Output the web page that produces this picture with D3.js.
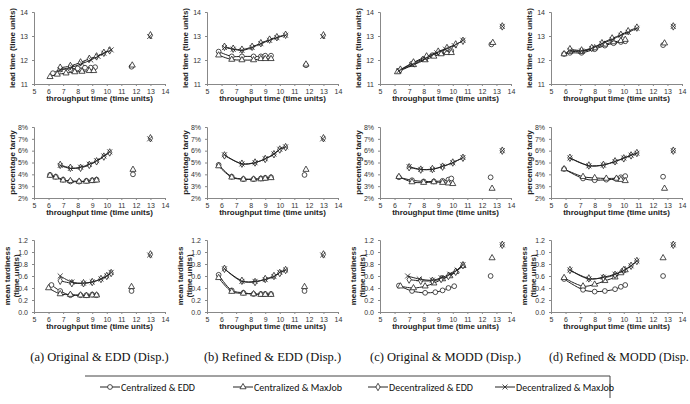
<!DOCTYPE html>
<html>
<head>
<meta charset="utf-8">
<script src="https://cdn.jsdelivr.net/npm/d3@7"></script>
<style>
  body { margin: 0; background: #fff; }
  svg { display: block; }
  .tick text { font-family: Arial, "Liberation Sans", sans-serif; font-size: 7px; fill: #333; }
  .tick line { stroke: #888; }
</style>
</head>
<body>
<svg id="fig" width="690" height="404"></svg>
<script>
// ---- data ----
const seriesNames = ["Centralized & EDD", "Centralized & MaxJob", "Decentralized & EDD", "Decentralized & MaxJob"];
const captions = ["(a) Original & EDD (Disp.)", "(b) Refined & EDD (Disp.)", "(c) Original & MODD (Disp.)", "(d) Refined & MODD (Disp."];
const xTicks = [5, 6, 7, 8, 9, 10, 11, 12, 13, 14];
const leadTicks = [11, 12, 13, 14];
const tardyTicks = [0.02, 0.03, 0.04, 0.05, 0.06, 0.07, 0.08];
const meanTicks = [0, 0.2, 0.4, 0.6, 0.8, 1.0, 1.2];

// lead time: [centEDD, centMaxJob, decEDD, decMaxJob]
const leadA = [
  [[6.3,11.45],[6.8,11.6],[7.5,11.62],[8.0,11.65],[8.5,11.68],[8.9,11.68],[9.2,11.7]],
  [[6.1,11.3],[6.6,11.4],[7.2,11.45],[7.8,11.5],[8.3,11.52],[8.8,11.55],[9.1,11.55]],
  [[6.8,11.68],[7.5,11.75],[8.2,11.9],[8.8,12.05],[9.3,12.15],[9.8,12.3],[10.2,12.4]],
  [[6.8,11.6],[7.6,11.7],[8.3,11.85],[8.9,12.0],[9.4,12.15],[9.8,12.28],[10.3,12.42]]
];
const leadB = [
  [[5.8,12.35],[6.7,12.15],[7.4,12.15],[8.2,12.15],[8.7,12.15],[9.0,12.18],[9.4,12.18]],
  [[5.8,12.2],[6.7,12.02],[7.4,12.0],[8.2,12.0],[8.7,12.05],[9.0,12.05],[9.4,12.05]],
  [[6.2,12.55],[6.8,12.47],[7.4,12.43],[8.1,12.55],[8.7,12.7],[9.3,12.85],[9.8,12.95],[10.4,13.05]],
  [[6.2,12.52],[6.8,12.45],[7.4,12.4],[8.1,12.52],[8.7,12.68],[9.3,12.82],[9.8,12.93],[10.4,13.03]]
];
const leadC = [
  [[6.3,11.55],[7.2,11.85],[8.0,12.05],[8.6,12.2],[9.1,12.3],[9.5,12.35],[9.9,12.38]],
  [[6.2,11.5],[7.3,11.8],[8.1,12.0],[8.7,12.15],[9.2,12.25],[9.6,12.3],[9.9,12.3]],
  [[6.4,11.6],[7.3,11.9],[8.2,12.15],[9.0,12.35],[9.6,12.5],[10.2,12.65],[10.7,12.8]],
  [[6.3,11.55],[7.2,11.8],[8.1,12.05],[8.9,12.3],[9.5,12.45],[10.1,12.6],[10.7,12.82]]
];
const leadD = [
  [[5.9,12.25],[6.3,12.3],[7.1,12.3],[8.0,12.45],[8.7,12.6],[9.3,12.7],[9.8,12.75],[10.1,12.78]],
  [[5.9,12.25],[6.3,12.35],[7.1,12.35],[8.0,12.5],[8.7,12.65],[9.3,12.75],[9.8,12.8],[10.1,12.85]],
  [[6.3,12.45],[7.1,12.4],[7.8,12.5],[8.5,12.7],[9.2,12.9],[9.8,13.05],[10.3,13.2],[10.9,13.35]],
  [[6.3,12.4],[7.1,12.38],[7.8,12.48],[8.5,12.68],[9.2,12.85],[9.8,13.03],[10.3,13.15],[10.9,13.32]]
];
// percentage tardy
const tardyA = [
  [[6.1,0.0395],[6.5,0.038],[7.0,0.0355],[7.5,0.034],[8.1,0.0338],[8.6,0.0345],[9.0,0.035],[9.3,0.0355]],
  [[6.1,0.039],[6.5,0.0375],[7.0,0.035],[7.5,0.0345],[8.1,0.034],[8.6,0.034],[9.0,0.0345],[9.3,0.035]],
  [[6.8,0.048],[7.5,0.0455],[8.2,0.0455],[8.8,0.048],[9.3,0.051],[9.8,0.055],[10.2,0.0585]],
  [[6.8,0.0475],[7.5,0.045],[8.2,0.046],[8.8,0.0485],[9.3,0.0515],[9.8,0.0555],[10.2,0.059]]
];
const tardyB = [
  [[5.8,0.048],[6.7,0.038],[7.5,0.036],[8.2,0.036],[8.7,0.0365],[9.0,0.037],[9.4,0.0375]],
  [[5.8,0.047],[6.7,0.0375],[7.5,0.0358],[8.2,0.0358],[8.7,0.036],[9.0,0.0365],[9.4,0.037]],
  [[6.2,0.056],[7.4,0.049],[8.3,0.05],[9.0,0.053],[9.6,0.057],[10.0,0.061],[10.4,0.063]],
  [[6.2,0.0565],[7.4,0.0488],[8.3,0.0498],[9.0,0.0532],[9.6,0.0572],[10.0,0.0612],[10.4,0.0632]]
];
const tardyC = [
  [[6.3,0.0375],[7.2,0.035],[8.0,0.034],[8.7,0.034],[9.3,0.0345],[9.7,0.0355],[9.9,0.0365]],
  [[6.3,0.038],[7.2,0.0335],[8.0,0.033],[8.7,0.0335],[9.3,0.033],[9.7,0.0325],[10.0,0.032]],
  [[7.0,0.046],[7.8,0.044],[8.6,0.0445],[9.3,0.0465],[10.0,0.05],[10.7,0.054]],
  [[7.0,0.0465],[7.8,0.0442],[8.6,0.0442],[9.3,0.0468],[10.0,0.0498],[10.7,0.0542]]
];
const tardyD = [
  [[5.9,0.0445],[7.2,0.0365],[8.0,0.035],[8.8,0.0355],[9.5,0.036],[9.8,0.0375],[10.1,0.0385]],
  [[5.9,0.0445],[7.2,0.038],[8.0,0.037],[8.8,0.0365],[9.5,0.0365],[9.8,0.0355],[10.1,0.0345]],
  [[6.3,0.054],[7.6,0.0475],[8.6,0.048],[9.4,0.051],[10.0,0.0535],[10.5,0.056],[10.9,0.058]],
  [[6.3,0.0538],[7.6,0.0472],[8.6,0.0478],[9.4,0.0508],[10.0,0.0538],[10.5,0.0562],[10.9,0.0578]]
];
// mean tardiness
const meanA = [
  [[6.2,0.45],[6.8,0.35],[7.5,0.28],[8.2,0.28],[8.6,0.28],[9.0,0.29],[9.3,0.28]],
  [[6.0,0.4],[6.8,0.3],[7.5,0.29],[8.2,0.28],[8.6,0.27],[9.0,0.28],[9.3,0.28]],
  [[6.8,0.52],[7.6,0.48],[8.4,0.48],[9.0,0.5],[9.6,0.55],[10.0,0.6],[10.3,0.65]],
  [[6.8,0.6],[7.6,0.5],[8.4,0.48],[9.0,0.5],[9.6,0.55],[10.0,0.6],[10.3,0.66]]
];
const meanB = [
  [[5.8,0.62],[6.7,0.36],[7.5,0.32],[8.2,0.3],[8.7,0.3],[9.0,0.3],[9.4,0.3]],
  [[5.8,0.57],[6.7,0.34],[7.5,0.31],[8.2,0.3],[8.7,0.29],[9.0,0.29],[9.4,0.29]],
  [[6.2,0.72],[7.4,0.52],[8.3,0.5],[9.0,0.55],[9.6,0.6],[10.0,0.65],[10.4,0.7]],
  [[6.2,0.72],[7.4,0.51],[8.3,0.51],[9.0,0.54],[9.6,0.59],[10.0,0.66],[10.4,0.7]]
];
const meanC = [
  [[6.3,0.44],[7.2,0.35],[8.1,0.32],[8.8,0.33],[9.3,0.36],[9.7,0.4],[10.1,0.43]],
  [[6.4,0.43],[7.3,0.4],[8.1,0.43],[8.7,0.48],[9.3,0.55],[9.8,0.6],[10.2,0.67],[10.7,0.77]],
  [[7.0,0.54],[7.8,0.52],[8.6,0.52],[9.2,0.55],[9.7,0.6],[10.2,0.67],[10.7,0.78]],
  [[6.9,0.6],[7.7,0.55],[8.6,0.53],[9.2,0.57],[9.8,0.63],[10.3,0.7],[10.7,0.79]]
];
const meanD = [
  [[5.9,0.55],[7.2,0.37],[8.0,0.34],[8.7,0.35],[9.4,0.38],[9.8,0.42],[10.1,0.45]],
  [[5.9,0.57],[7.2,0.43],[8.0,0.46],[8.7,0.52],[9.4,0.58],[9.8,0.65],[10.1,0.7]],
  [[6.3,0.7],[7.6,0.56],[8.6,0.57],[9.4,0.62],[10.0,0.7],[10.5,0.77],[10.9,0.85]],
  [[6.3,0.7],[7.6,0.55],[8.6,0.58],[9.4,0.63],[10.0,0.69],[10.5,0.77],[10.9,0.85]]
];
// isolated points (one per series) per panel
const leadIso = [
  [[11.7,11.72],[11.75,11.78],[13.0,13.03],[12.95,12.98]],
  [[11.8,11.78],[11.8,11.82],[13.0,13.03],[12.95,12.98]],
  [[12.65,12.65],[12.75,12.72],[13.4,13.4],[13.4,13.4]],
  [[12.7,12.62],[12.8,12.7],[13.4,13.4],[13.4,13.4]]
];
const tardyIso = [
  [[11.8,0.040],[11.8,0.044],[13.0,0.0705],[12.95,0.07]],
  [[11.7,0.0395],[11.8,0.044],[13.0,0.0705],[12.95,0.07]],
  [[12.6,0.0375],[12.7,0.028],[13.4,0.06],[13.4,0.06]],
  [[12.7,0.038],[12.8,0.028],[13.4,0.06],[13.4,0.06]]
];
const meanIso = [
  [[11.7,0.35],[11.7,0.42],[13.0,0.96],[12.95,0.95]],
  [[11.7,0.35],[11.7,0.42],[13.0,0.96],[12.95,0.95]],
  [[12.6,0.6],[12.7,0.9],[13.4,1.12],[13.4,1.12]],
  [[12.7,0.6],[12.7,0.9],[13.4,1.12],[13.4,1.12]]
];

// ---- layout ----
const svg = d3.select("#fig");
const colX = [34, 207, 380, 551];
const plotW = 131;
const rowsCfg = [
  { top: 12, bottom: 84, data: [leadA, leadB, leadC, leadD], iso: leadIso,
    domain: [11, 14], ticks: leadTicks, fmt: d3.format("d"), label: ["lead time (time units)"] },
  { top: 127, bottom: 198, data: [tardyA, tardyB, tardyC, tardyD], iso: tardyIso,
    domain: [0.02, 0.08], ticks: tardyTicks, fmt: d3.format(".0%"), label: ["percentage tardy"] },
  { top: 240, bottom: 312, data: [meanA, meanB, meanC, meanD], iso: meanIso,
    domain: [0, 1.2], ticks: meanTicks, fmt: d3.format(".1f"), label: ["mean tardiness", "(time units)"] }
];

const symX = d3.symbolX || d3.symbolCross;
const symbols = [d3.symbolCircle, d3.symbolTriangle, d3.symbolDiamond, symX];
const symSize = [18, 16, 16, 18];
const ink = "#222";

function marker(g, i, px, py) {
  g.append("path")
    .attr("d", d3.symbol().type(symbols[i]).size(symSize[i])())
    .attr("transform", `translate(${px},${py})`)
    .attr("fill", i === 3 ? "none" : "#fff")
    .attr("stroke", ink)
    .attr("stroke-width", 0.8);
}

rowsCfg.forEach((row, r) => {
  colX.forEach((cx, c) => {
    const x = d3.scaleLinear().domain([5, 14]).range([cx, cx + plotW]);
    const y = d3.scaleLinear().domain(row.domain).range([row.bottom, row.top]);
    const g = svg.append("g");

    // axes
    const ax = g.append("g").attr("transform", `translate(0,${row.bottom})`)
      .call(d3.axisBottom(x).tickValues(xTicks).tickSize(2).tickPadding(3));
    const ay = g.append("g").attr("transform", `translate(${cx},0)`)
      .call(d3.axisLeft(y).tickValues(row.ticks).tickFormat(row.fmt).tickSize(2).tickPadding(4));
    [ax, ay].forEach(a => a.select(".domain").attr("stroke", "#888"));

    // axis titles
    g.append("text")
      .attr("x", cx + plotW / 2)
      .attr("y", row.bottom + 17)
      .attr("text-anchor", "middle")
      .style("font-family", "Arial, 'Liberation Sans', sans-serif")
      .style("font-size", "8px")
      .style("font-weight", "bold")
      .attr("fill", "#222")
      .text("throughput time (time units)");

    const yl = g.append("text")
      .attr("transform", `translate(${cx - (row.label.length > 1 ? 24 : 19)},${(row.top + row.bottom) / 2}) rotate(-90)`)
      .attr("text-anchor", "middle")
      .style("font-family", "Arial, 'Liberation Sans', sans-serif")
      .style("font-size", "8px")
      .style("font-weight", "bold")
      .attr("fill", "#222");
    row.label.forEach((t, k) => yl.append("tspan").attr("x", 0).attr("dy", k ? 9 : 0).text(t));

    // series
    const line = d3.line().x(d => x(d[0])).y(d => y(d[1])).curve(d3.curveCatmullRom);
    row.data[c].forEach((pts, i) => {
      g.append("path").attr("d", line(pts))
        .attr("fill", "none").attr("stroke", ink).attr("stroke-width", 1);
      pts.forEach(d => marker(g, i, x(d[0]), y(d[1])));
    });
    row.iso[c].forEach((d, i) => marker(g, i, x(d[0]), y(d[1])));
  });
});

// captions
colX.forEach((cx, c) => {
  svg.append("text")
    .attr("x", c === 3 ? 549 : cx + plotW / 2)
    .attr("y", 361)
    .attr("text-anchor", c === 3 ? "start" : "middle")
    .style("font-family", "'Liberation Serif', 'DejaVu Serif', serif")
    .style("font-size", c === 3 ? "12px" : "12.5px")
    .attr("fill", "#111")
    .text(captions[c]);
});

// legend
const leg = svg.append("g");
leg.append("line").attr("x1", 85).attr("x2", 610).attr("y1", 376).attr("y2", 376).attr("stroke", "#444");
leg.append("line").attr("x1", 610).attr("x2", 610).attr("y1", 376).attr("y2", 398).attr("stroke", "#444");
const legX = [100, 233, 368, 495];
seriesNames.forEach((s, i) => {
  const lx = legX[i], ly = 387;
  leg.append("line").attr("x1", lx).attr("x2", lx + 20).attr("y1", ly).attr("y2", ly)
    .attr("stroke", ink).attr("stroke-width", 1);
  marker(leg, i, lx + 10, ly);
  leg.append("text")
    .attr("x", lx + 21).attr("y", ly + 4)
    .style("font-family", "Carlito, 'Open Sans', 'Liberation Sans', sans-serif")
    .style("font-size", "10px")
    .attr("fill", "#111")
    .text(s);
});
</script>
</body>
</html>
